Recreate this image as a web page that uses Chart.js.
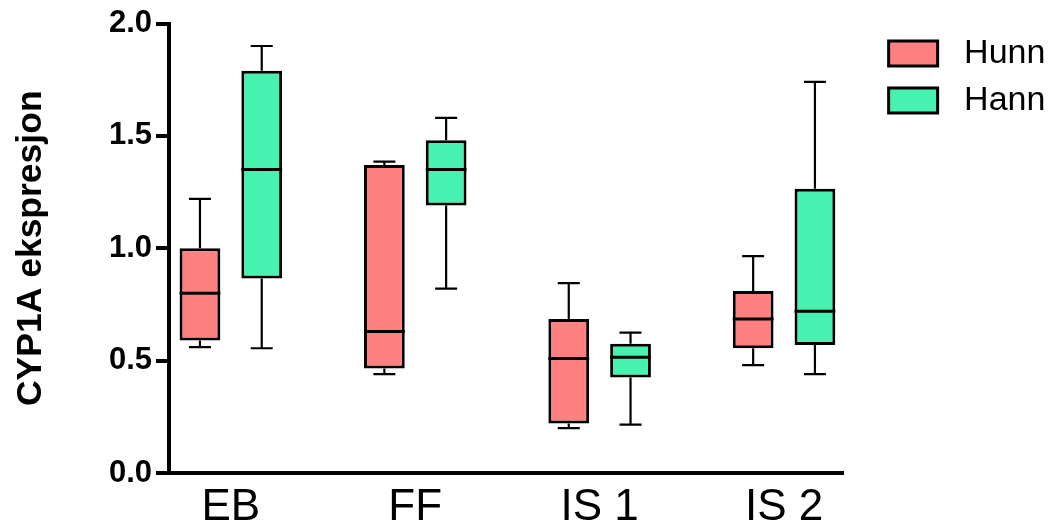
<!DOCTYPE html>
<html>
<head>
<meta charset="utf-8">
<script src="https://cdn.jsdelivr.net/npm/chart.js@4/dist/chart.umd.min.js"></script>
<style>
  html, body { margin: 0; padding: 0; background: #ffffff; }
  #wrap { width: 1052px; height: 529px; }
</style>
</head>
<body>
<div id="wrap"><canvas id="c" width="1052" height="529"></canvas></div>
<script>
// ---- data ----
const categories = ['EB', 'FF', 'IS 1', 'IS 2'];
const seriesNames = ['Hunn', 'Hann'];
const yTicks = [0.0, 0.5, 1.0, 1.5, 2.0];

const hunnMin    = [0.56, 0.44, 0.20, 0.48];
const hunnQ1     = [0.59, 0.465, 0.22, 0.555];
const hunnMedian = [0.80, 0.63, 0.51, 0.685];
const hunnQ3     = [1.00, 1.37, 0.685, 0.81];
const hunnMax    = [1.22, 1.385, 0.845, 0.965];

const hannMin    = [0.555, 0.82, 0.215, 0.44];
const hannQ1     = [0.865, 1.19, 0.425, 0.57];
const hannMedian = [1.35, 1.35, 0.515, 0.72];
const hannQ3     = [1.79, 1.48, 0.575, 1.265];
const hannMax    = [1.90, 1.58, 0.625, 1.74];

// ---- derived structures ----
const stats = [
  { min: hunnMin, q1: hunnQ1, med: hunnMedian, q3: hunnQ3, max: hunnMax },
  { min: hannMin, q1: hannQ1, med: hannMedian, q3: hannQ3, max: hannMax }
];
const fills = ['#FF8080', '#45F2B0'];
const FONT = "'Liberation Sans', Arial, Helvetica, sans-serif";

const datasets = stats.map((s, d) => ({
  label: seriesNames[d],
  data: categories.map((c, i) => ({ x: i, y: [s.q1[i], s.q3[i]] })),
  backgroundColor: fills[d],
  borderColor: '#000000',
  borderWidth: 3,
  borderSkipped: false,
  categoryPercentage: 0.67,
  barPercentage: 0.66
}));

const boxPlugin = {
  id: 'boxWhiskers',
  beforeDatasetsDraw(chart) {
    const ctx = chart.ctx;
    const ys = chart.scales.y;
    ctx.save();
    ctx.strokeStyle = '#000000';
    ctx.lineWidth = 2.2;
    ctx.lineCap = 'butt';
    stats.forEach((s, d) => {
      const meta = chart.getDatasetMeta(d);
      meta.data.forEach((bar, i) => {
        const { x, width } = bar.getProps(['x', 'width'], true);
        const cap = width * 0.27;
        const pMax = ys.getPixelForValue(s.max[i]);
        const pQ3 = ys.getPixelForValue(s.q3[i]);
        const pQ1 = ys.getPixelForValue(s.q1[i]);
        const pMin = ys.getPixelForValue(s.min[i]);
        ctx.beginPath();
        ctx.moveTo(x, pQ3); ctx.lineTo(x, pMax);
        ctx.moveTo(x - cap, pMax); ctx.lineTo(x + cap, pMax);
        ctx.moveTo(x, pQ1); ctx.lineTo(x, pMin);
        ctx.moveTo(x - cap, pMin); ctx.lineTo(x + cap, pMin);
        ctx.stroke();
      });
    });
    ctx.restore();
  },
  afterDatasetsDraw(chart) {
    const ctx = chart.ctx;
    const ys = chart.scales.y;
    ctx.save();
    ctx.strokeStyle = '#000000';
    ctx.lineWidth = 3;
    stats.forEach((s, d) => {
      const meta = chart.getDatasetMeta(d);
      meta.data.forEach((bar, i) => {
        const { x, width } = bar.getProps(['x', 'width'], true);
        const pMed = ys.getPixelForValue(s.med[i]);
        ctx.beginPath();
        ctx.moveTo(x - width / 2, pMed);
        ctx.lineTo(x + width / 2, pMed);
        ctx.stroke();
      });
    });
    ctx.restore();
  }
};

new Chart(document.getElementById('c'), {
  type: 'bar',
  data: { datasets },
  plugins: [boxPlugin],
  options: {
    responsive: false,
    devicePixelRatio: 1,
    animation: false,
    layout: { padding: { top: 23.5, right: 1.25, bottom: 0, left: 0 } },
    plugins: {
      tooltip: { enabled: false },
      legend: {
        display: true,
        position: 'right',
        align: 'start',
        labels: {
          boxWidth: 49,
          boxHeight: 25,
          padding: 13,
          color: '#000000',
          font: { family: FONT, size: 34, lineHeight: 1.15 },
          generateLabels: (chart) =>
            Chart.defaults.plugins.legend.labels.generateLabels(chart)
              .map(item => Object.assign(item, { text: ' ' + item.text }))
        }
      }
    },
    scales: {
      x: {
        type: 'linear',
        min: -0.3354,
        max: 3.3231,
        offset: false,
        afterBuildTicks: (scale) => { scale.ticks = categories.map((c, i) => ({ value: i })); },
        afterFit: (scale) => { scale.height = 56; },
        grid: { display: false, drawTicks: false },
        border: { display: true, color: '#000000', width: 4 },
        ticks: {
          autoSkip: false,
          maxRotation: 0,
          padding: 8,
          color: '#000000',
          font: { family: FONT, size: 44 },
          callback: (v) => categories[v]
        }
      },
      y: {
        type: 'linear',
        position: 'left',
        min: 0,
        max: 2,
        afterBuildTicks: (scale) => { scale.ticks = yTicks.map(v => ({ value: v })); },
        afterFit: (scale) => { scale.width = 169; },
        grid: {
          display: true,
          drawOnChartArea: false,
          drawTicks: true,
          tickLength: 13,
          lineWidth: 4,
          color: '#000000'
        },
        border: { display: true, color: '#000000', width: 4 },
        ticks: {
          padding: 4,
          color: '#000000',
          font: { family: FONT, size: 31, weight: 'bold' },
          callback: (v) => Number(v).toFixed(1)
        },
        title: {
          display: true,
          text: 'CYP1A ekspresjon',
          color: '#000000',
          padding: { top: 10, bottom: 0 },
          font: { family: FONT, size: 35.5, weight: 'bold' }
        }
      },
      yRight: {
        type: 'linear',
        position: 'right',
        display: true,
        afterFit: (scale) => { scale.width = 32; },
        grid: { display: false, drawTicks: false },
        border: { display: false },
        ticks: { display: false }
      }
    }
  }
});
</script>
</body>
</html>
